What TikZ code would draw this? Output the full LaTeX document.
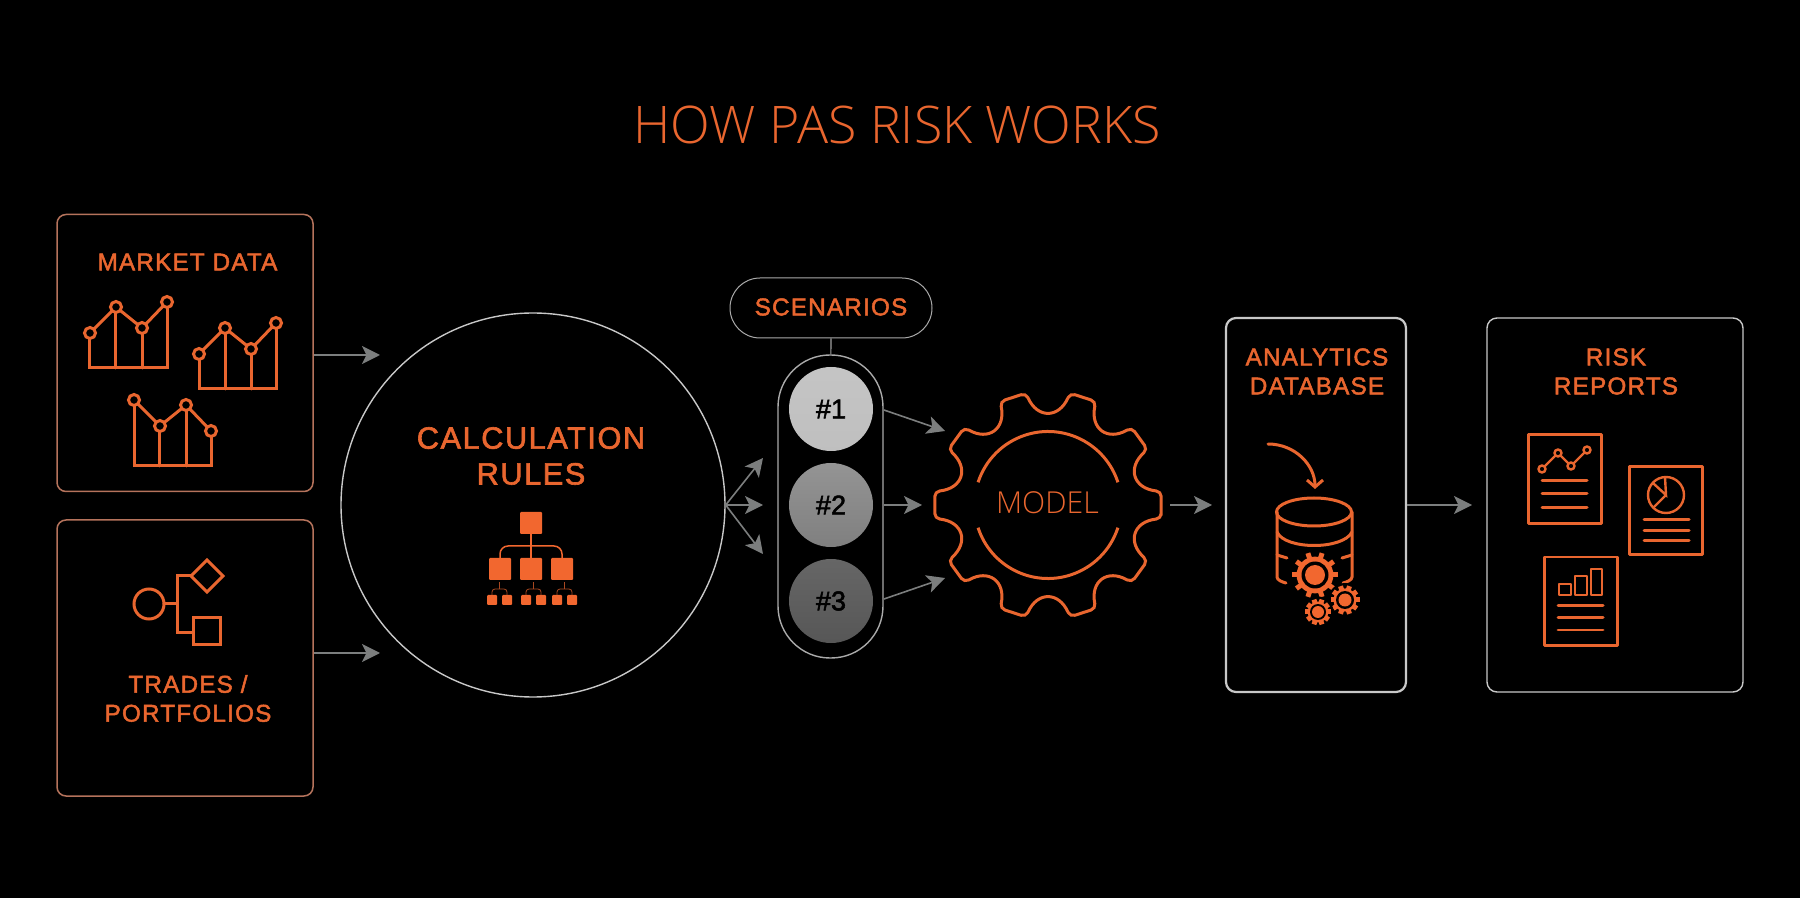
\documentclass[tikz,border=0pt]{standalone}
\usepackage{fontspec}
\usepackage{tikz}
\usetikzlibrary{arrows.meta,positioning,shapes.geometric}
\setmainfont{Liberation Sans}
\newfontfamily\labelfont[LetterSpace=5,FakeBold=2]{Liberation Sans}
\newfontfamily\numberfont[FakeBold=2]{Liberation Sans}
\newfontfamily\thinfont{Open Sans Light}
\definecolor{riskorange}{HTML}{E9662F}
\definecolor{iconorange}{HTML}{F2672F}
\definecolor{boxrose}{HTML}{B5735C}
\definecolor{arrowgrey}{HTML}{7C7E7E}
\definecolor{edgegrey}{HTML}{C8C8C8}
% line chart icon: left x, base y, then the four marker heights
\newcommand{\linechart}[6]{%
  \draw [iconline] (#1,#3) -- (#1,#2) -- ({#1+0.77},#2) -- ({#1+0.77},#6);
  \draw [iconline] ({#1+0.26},#2) -- ({#1+0.26},#4);
  \draw [iconline] ({#1+0.52},#2) -- ({#1+0.52},#5);
  \draw [iconline] (#1,#3) -- ({#1+0.26},#4) -- ({#1+0.52},#5) -- ({#1+0.77},#6);
  \foreach \px/\py in {0/#3,0.26/#4,0.52/#5,0.77/#6}
    \draw [iconline, fill=black] ({#1+\px},\py) circle (0.055);
}
% small cog: centre, outer radius, ring radius, dot radius
\newcommand{\cogicon}[4]{%
  \fill [black] (#1) circle ({#2+0.025});
  \foreach \a in {0,36,...,324}
    \draw [iconorange, line width=0.05cm] (#1) -- ++(\a:#2);
  \fill [iconorange] (#1) circle ({#2*0.8});
  \fill [black] (#1) circle (#3);
  \fill [iconorange] (#1) circle (#4);
}
\begin{document}
\begin{tikzpicture}[
    auto,
    node distance=2cm,
    >={Stealth[length=0.18cm,width=0.18cm,inset=0.045cm]},
    inputbox/.style={
		rectangle,
		rounded corners=0.09cm,
		draw=boxrose,
		line width=0.015cm,
		minimum width=2.56cm
	},
	dbbox/.style={
		rectangle,
		rounded corners=0.1cm,
		draw=edgegrey,
		minimum height=3.74cm
	},
	pill/.style={
		rectangle,
		draw=edgegrey!85!black,
		line width=0.01cm
	},
	boxlabel/.style={
		font=\labelfont\fontsize{6.9pt}{8.25pt}\selectfont,
		text=riskorange,
		align=center,
		inner sep=0pt
	},
	scenario/.style={
		circle,
		minimum size=0.84cm,
		inner sep=0pt,
		font=\numberfont\fontsize{7.7pt}{8pt}\selectfont,
		text=black
	},
	flow/.style={
		->,
		draw=arrowgrey,
		line width=0.016cm
	},
	iconline/.style={
		draw=riskorange,
		line width=0.03cm,
		line cap=round
	},
	hierbox/.style={
		fill=iconorange,
		rounded corners=0.01cm
	}
  ]
    \useasboundingbox (0,0) rectangle (18,-8.98);
    \fill [black] (0,0) rectangle (18,-8.98);

    % We start by placing the blocks
  \node [font=\thinfont\fontsize{14.75pt}{17pt}\selectfont, text=riskorange, inner sep=0pt] (title) at (8.97,-1.25) {HOW PAS RISK WORKS};

  \node [inputbox, minimum height=2.77cm] (market) at (1.85,-3.53) {};
  \node [inputbox, minimum height=2.76cm, below of=market, yshift=-1.05cm] (trades) {};
  \node [circle, draw=edgegrey, line width=0.014cm, minimum size=3.84cm, right of=market, xshift=1.48cm, yshift=-1.52cm] (calc) {};

  \node [pill, rounded corners=0.3cm, minimum width=2.02cm, minimum height=0.6cm] (scenarios) at (8.31,-3.08) {};
  \node [pill, line width=0.014cm, rounded corners=0.52cm, minimum width=1.05cm, minimum height=3.03cm] (stack) at (8.305,-5.065) {};
  \node [scenario, top color=black!23, bottom color=black!25] (one) at (8.31,-4.09) {\#1};
  \node [scenario, top color=black!42, bottom color=black!50, below of=one, node distance=0.96cm] (two) {\#2};
  \node [scenario, top color=black!60, bottom color=black!66, below of=two, node distance=0.96cm] (three) {\#3};

  \node [dbbox, line width=0.022cm, minimum width=1.8cm] (database) at (13.16,-5.05) {};
  \node [dbbox, line width=0.014cm, minimum width=2.56cm, right of=database, xshift=0.99cm] (reports) {};

  % the labels
  \node [boxlabel] (marketlabel) at (1.875,-2.62) {MARKET DATA};
  \node [boxlabel] (tradeslabel) at (1.88,-6.985) {TRADES /\\PORTFOLIOS};
  \node [boxlabel, font=\labelfont\fontsize{8.75pt}{10.2pt}\selectfont] (calclabel) at (5.31,-4.56) {CALCULATION\\RULES};
  \node [boxlabel] (scenarioslabel) at (8.31,-3.07) {SCENARIOS};
  \node [boxlabel] (databaselabel) at (13.17,-3.715) {ANALYTICS\\DATABASE};
  \node [boxlabel] (reportslabel) at (16.16,-3.715) {RISK\\REPORTS};
  \node [font=\thinfont\fontsize{8.6pt}{10pt}\selectfont, text=riskorange, inner sep=0pt] (model) at (10.475,-5.03) {MODEL};

  % free ends of the connectors
  \coordinate (marketend) at (3.80,-3.55);
  \coordinate (tradesend) at (3.80,-6.53);
  \coordinate (fanup) at (7.63,-4.58);
  \coordinate (fanmid) at (7.63,-5.05);
  \coordinate (fandown) at (7.63,-5.54);
  \coordinate (modelup) at (9.45,-4.31);
  \coordinate (modelmid) at (9.22,-5.05);
  \coordinate (modeldown) at (9.45,-5.78);
  \coordinate (stackup) at (8.84,-4.10);
  \coordinate (stackdown) at (8.84,-5.99);
  \coordinate (gearout) at (11.70,-5.05);
  \coordinate (dbin) at (12.12,-5.05);

  \draw [flow] (market.east |- marketend) -- (marketend);
  \draw [flow] (trades.east |- tradesend) -- (tradesend);
  \draw [flow] (calc.east) -- (fanup);
  \draw [flow] (calc.east) -- (fanmid);
  \draw [flow] (calc.east) -- (fandown);
  \draw [draw=edgegrey!80!black, line width=0.012cm] (scenarios) -- (stack);
  \draw [flow] (stackup) -- (modelup);
  \draw [flow] (stack.east |- modelmid) -- (modelmid);
  \draw [flow] (stackdown) -- (modeldown);
  \draw [flow] (gearout) -- (dbin);
  \draw [flow] (database.east) -- (reports.west -| 14.72,0);

  % market data charts
  \linechart{0.90}{-3.68}{-3.33}{-3.07}{-3.28}{-3.02}
  \linechart{1.99}{-3.89}{-3.54}{-3.28}{-3.49}{-3.23}
  \linechart{1.34}{-4.66}{-4.00}{-4.26}{-4.05}{-4.31}

  % trades icon
  \draw [iconline] (1.49,-6.04) circle (0.15);
  \draw [iconline] (1.64,-6.04) -- (1.77,-6.04);
  \draw [iconline] (1.91,-5.76) -- (1.77,-5.76) -- (1.77,-6.32) -- (1.93,-6.32);
  \draw [iconline] (2.07,-5.60) -- (2.23,-5.76) -- (2.07,-5.92) -- (1.91,-5.76) -- cycle;
  \draw [iconline] (1.93,-6.18) rectangle (2.20,-6.45);

  % hierarchy icon
  \fill [hierbox] (5.20,-5.12) rectangle (5.42,-5.34);
  \foreach \x in {4.89,5.20,5.51}
    \fill [hierbox] (\x,-5.58) rectangle ({\x+0.22},-5.80);
  \foreach \x in {4.87,5.02,5.21,5.36,5.52,5.67}
    \fill [hierbox] (\x,-5.95) rectangle ({\x+0.10},-6.05);
  \draw [iconorange, line width=0.015cm] (5.31,-5.34) -- (5.31,-5.58);
  \draw [iconorange, line width=0.015cm, rounded corners=0.08cm] (5.00,-5.58) |- (5.62,-5.46) -- (5.62,-5.58);
  \foreach \x in {4.995,5.335,5.645} {
    \draw [iconorange!70!black, line width=0.008cm] (\x,-5.82) -- (\x,-5.89);
    \draw [iconorange!70!black, line width=0.008cm, rounded corners=0.03cm] ({\x-0.075},-5.95) |- ({\x+0.075},-5.89) -- ({\x+0.075},-5.95);
  }

  % the big gear
  \begin{scope}[shift={(10.48,-5.05)}]
  \draw [riskorange, line width=0.03cm, rounded corners=0.05cm] (-6.8:1.14)
    \foreach \a in {0,36,...,324} {
      -- (\a+6.8:1.14) .. controls (\a+11:0.87) and (\a+25:0.87) .. (\a+29.2:1.14)
    } -- cycle;
  \draw [riskorange, line width=0.03cm] (18:0.735) arc (18:162:0.735);
  \draw [riskorange, line width=0.03cm] (198:0.735) arc (198:342:0.735);
  \end{scope}

  % database icon
  \draw [iconline] (13.14,-5.12) ellipse (0.375 and 0.14);
  \draw [iconline] (12.77,-5.12) -- (12.77,-5.77) .. controls (12.77,-5.80) and (12.82,-5.82) .. (12.86,-5.83);
  \draw [iconline] (13.52,-5.12) -- (13.52,-5.77) .. controls (13.52,-5.80) and (13.47,-5.82) .. (13.43,-5.83);
  \draw [iconline] (12.77,-5.32) .. controls (12.85,-5.50) and (13.43,-5.50) .. (13.52,-5.32);
  \draw [iconline] (12.77,-5.55) -- (12.87,-5.58);
  \draw [iconline] (13.52,-5.55) -- (13.42,-5.58);
  \draw [iconline, ->, >={Straight Barb[length=0.07cm,width=0.16cm]}] (12.68,-4.44) .. controls (12.95,-4.44) and (13.15,-4.65) .. (13.15,-4.89);
  \cogicon{13.15,-5.75}{0.23}{0.135}{0.10}
  \cogicon{13.45,-6.00}{0.145}{0.09}{0.065}
  \cogicon{13.18,-6.12}{0.13}{0.08}{0.06}

  % report pages
  \foreach \x/\y in {15.28/-4.35,16.29/-4.67,15.44/-5.57}
    \draw [iconline, line join=round] (\x,\y) rectangle ({\x+0.73},{\y-0.88});
  \foreach \x/\y in {15.42/-4.81,15.42/-4.94,15.42/-5.08,16.44/-5.20,16.44/-5.31,16.44/-5.41,15.58/-6.06,15.58/-6.18,15.58/-6.30}
    \draw [iconline] (\x,\y) -- ({\x+0.45},\y);
  \draw [iconline, line width=0.024cm] (15.42,-4.69) -- (15.58,-4.53) -- (15.71,-4.66) -- (15.87,-4.50);
  \foreach \x/\y in {15.42/-4.69,15.58/-4.53,15.71/-4.66,15.87/-4.50}
    \draw [iconline, line width=0.024cm, fill=black] (\x,\y) circle (0.035);
  \draw [iconline, line width=0.024cm] (16.66,-4.95) circle (0.18);
  \draw [iconline, line width=0.024cm] (16.65,-4.77) -- (16.66,-4.95) -- (16.54,-4.84) (16.66,-4.95) -- (16.54,-5.07);
  \draw [iconline, line width=0.024cm, line join=round] (15.59,-5.95) |- (15.71,-5.84) |- cycle;
  \draw [iconline, line width=0.024cm, line join=round] (15.75,-5.95) |- (15.87,-5.76) |- cycle;
  \draw [iconline, line width=0.024cm, line join=round] (15.91,-5.95) |- (16.02,-5.69) |- cycle;

\end{tikzpicture}
\end{document}
